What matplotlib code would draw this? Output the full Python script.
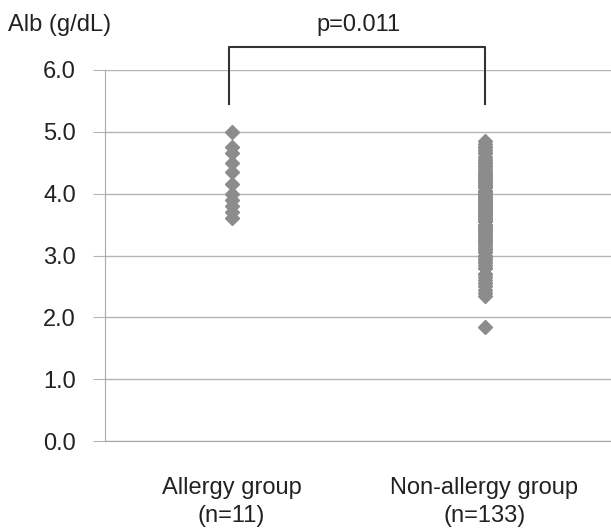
import matplotlib
matplotlib.use("Agg")
import matplotlib.pyplot as plt

plt.rcParams['font.family'] = ['Liberation Sans', 'DejaVu Sans']

groups = ["Allergy group\n(n=11)", "Non-allergy group\n(n=133)"]
yticks = [0.0, 1.0, 2.0, 3.0, 4.0, 5.0, 6.0]

allergy = [5.0, 4.75, 4.65, 4.5, 4.35, 4.15, 4.0, 3.9, 3.8, 3.7, 3.6]

non_allergy = [
    1.85,
    2.35, 2.4, 2.45, 2.5, 2.55, 2.6, 2.65, 2.7, 2.7,
    2.8, 2.8, 2.85, 2.9, 2.9, 2.95, 2.95,
    3.0, 3.0, 3.0, 3.05, 3.05, 3.1, 3.1, 3.1, 3.15, 3.15,
    3.2, 3.2, 3.2, 3.25, 3.25, 3.25, 3.3, 3.3, 3.3, 3.35, 3.35, 3.35,
    3.4, 3.4, 3.4, 3.45, 3.45, 3.45, 3.45, 3.5, 3.5, 3.5, 3.5, 3.55, 3.55, 3.55, 3.55,
    3.6, 3.6, 3.6, 3.6, 3.65, 3.65, 3.65, 3.65, 3.7, 3.7, 3.7, 3.7, 3.75, 3.75, 3.75, 3.75,
    3.8, 3.8, 3.8, 3.8, 3.85, 3.85, 3.85, 3.85, 3.9, 3.9, 3.9, 3.9, 3.95, 3.95, 3.95, 3.95,
    4.0, 4.0, 4.0, 4.0, 4.05, 4.05, 4.05, 4.05, 4.1, 4.1, 4.1, 4.15, 4.15, 4.15, 4.15,
    4.2, 4.2, 4.2, 4.25, 4.25, 4.25, 4.25, 4.3, 4.3, 4.3, 4.35, 4.35, 4.35,
    4.4, 4.4, 4.45, 4.45, 4.45, 4.5, 4.5, 4.55, 4.55, 4.6, 4.6, 4.65, 4.65,
    4.7, 4.7, 4.75, 4.75, 4.8, 4.85,
]

p_label = "p=0.011"

fig = plt.figure(figsize=(6.11, 5.31), dpi=100)
ax = fig.add_axes([105 / 611, 1 - 441 / 531, 506 / 611, 371 / 531])

ax.set_xlim(0, 2)
ax.set_ylim(0, 6)

ax.plot([0.5] * len(allergy), allergy, linestyle="none", marker="D",
        ms=7.5, color="#8c8c8c", mec="#8c8c8c", zorder=3)
ax.plot([1.5] * len(non_allergy), non_allergy, linestyle="none", marker="D",
        ms=7.5, color="#8c8c8c", mec="#8c8c8c", zorder=3)

ax.set_yticks(yticks)
ax.set_yticklabels([f"{v:.1f}" for v in yticks])
ax.set_xticks([0.5, 1.5])
ax.set_xticklabels(groups, linespacing=1.35)

ax.grid(axis="y", color="#b5b5b5", linewidth=1)
ax.set_axisbelow(True)
for s in ["top", "right"]:
    ax.spines[s].set_visible(False)
ax.spines["left"].set_color("#a8a8a8")
ax.spines["bottom"].set_color("#a8a8a8")
ax.tick_params(axis="y", length=9, color="#b5b5b5", pad=12, labelsize=17, labelcolor="#222222")
ax.tick_params(axis="x", length=0, pad=26, labelsize=17, labelcolor="#222222")

# significance bracket
ax.plot([0.49, 0.49, 1.5, 1.5], [5.45, 6.38, 6.38, 5.45], color="#333333",
        lw=1.5, clip_on=False)
ax.text(1.0, 6.73, p_label, ha="center", va="center", fontsize=17,
        color="#222222", clip_on=False)

fig.text(60 / 611, 1 - 25 / 531, "Alb (g/dL)", ha="center", va="center",
         fontsize=17, color="#222222")

fig.savefig("out.png", dpi=100)
